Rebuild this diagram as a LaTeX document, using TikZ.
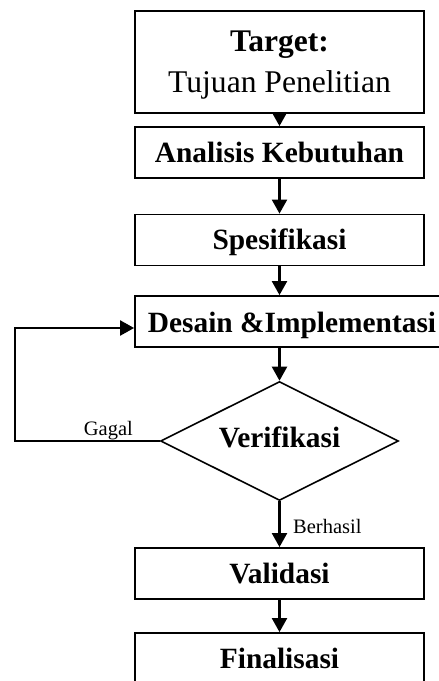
\documentclass[tikz,border=0pt]{standalone}
\usepackage{fontspec}
\setmainfont{Liberation Serif}
\usetikzlibrary{arrows.meta,shapes.geometric,calc}
\tikzset{
  stepbox/.style={draw,line width=1.8pt,rectangle,minimum width=289pt,minimum height=51pt,
    inner sep=0pt,text height=19.5pt,text depth=0pt,font=\fontsize{29.4}{35}\selectfont\bfseries},
  decide/.style={draw,line width=1.6pt,diamond,minimum width=238pt,minimum height=119pt,aspect=2,
    inner sep=0pt,text height=19.5pt,text depth=7.5pt,font=\fontsize{29.4}{35}\selectfont\bfseries},
  arr/.style={line width=2.2pt,-{Triangle[width=15pt,length=14pt]}},
  small/.style={font=\fontsize{20.5}{24}\selectfont,inner sep=0pt}
}
\begin{document}
\begin{tikzpicture}[x=1pt,y=-1pt]
\useasboundingbox (0,0) rectangle (439,681);
\clip (0,0) rectangle (439,681);
\node[stepbox,minimum height=102pt] (tgt) at (279.5,62) {};
\node[font=\fontsize{31.5}{41}\selectfont\bfseries,inner sep=0pt,anchor=base] (tgt1) at (279.5,51) {Target:};
\node[font=\fontsize{31.6}{41}\selectfont,inner sep=0pt,anchor=base] (tgt2) at (279.5,92) {Tujuan Penelitian};
\node[stepbox] (ana) at (279.5,152.5) {Analisis Kebutuhan};
\node[stepbox] (spe) at (279.5,240) {Spesifikasi};
\node[stepbox,minimum width=340pt] (des) at (305,321.5) {};
\node[font=\fontsize{29.4}{35}\selectfont\bfseries,inner sep=0pt,anchor=base] (dest) at (292,332) {Desain \&Implementasi};
\node[decide] (ver) at (279.5,441) {Verifikasi};
\node[stepbox] (val) at (279.5,573.5) {Validasi};
\node[stepbox] (fin) at (279.5,658.5) {Finalisasi};
\coordinate (loop) at (15,441);
\draw[arr] (tgt) -- (ana);
\draw[arr] (ana) -- (spe);
\draw[arr] (spe.south) -- (spe.south |- des.north);
\draw[arr] (spe.south |- des.south) -- (ver.north);
\draw[arr] (ver.south) -- (val.north);
\draw[arr] (val) -- (fin);
\draw[arr] (ver.west) -- (loop) |- ([yshift=-6.5pt]des.west);
\node[small,anchor=base east] (gagal) at (133,435) {Gagal};
\node[small,anchor=base west] (berhasil) at (293,533) {Berhasil};
\end{tikzpicture}
\end{document}
